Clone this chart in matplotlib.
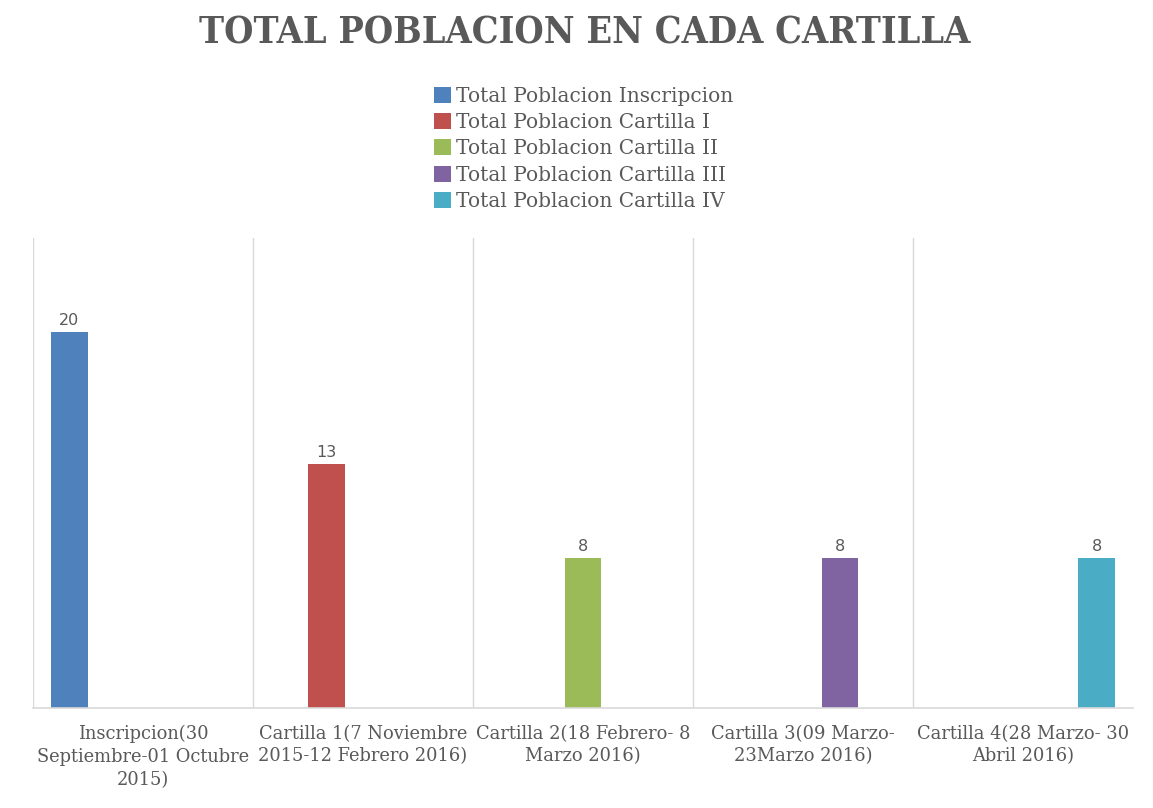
import numpy as np
import matplotlib
matplotlib.use("Agg")
import matplotlib.pyplot as plt

# datos del grafico
categorias = ["Inscripcion(30\nSeptiembre-01 Octubre\n2015)",
              "Cartilla 1(7 Noviembre\n2015-12 Febrero 2016)",
              "Cartilla 2(18 Febrero- 8\nMarzo 2016)",
              "Cartilla 3(09 Marzo-\n23Marzo 2016)",
              "Cartilla 4(28 Marzo- 30\nAbril 2016)"]
series = ["Total Poblacion Inscripcion", "Total Poblacion Cartilla I",
          "Total Poblacion Cartilla II", "Total Poblacion Cartilla III",
          "Total Poblacion Cartilla IV"]
valores = [[20, np.nan, np.nan, np.nan, np.nan],
           [np.nan, 13, np.nan, np.nan, np.nan],
           [np.nan, np.nan, 8, np.nan, np.nan],
           [np.nan, np.nan, np.nan, 8, np.nan],
           [np.nan, np.nan, np.nan, np.nan, 8]]
colores = ["#4F81BD", "#C0504D", "#9BBB59", "#8064A2", "#4BACC6"]

gris = "#595959"
fig = plt.figure(figsize=(11.53, 8.08), dpi=100)
ax = fig.add_axes([0.0286, 0.1238, 0.9541, 0.5816])

x = np.arange(len(categorias))
w = 0.168
for i, (nombre, vals) in enumerate(zip(series, valores)):
    vals = np.array(vals, dtype=float)
    bars = ax.bar(x + (i - 2) * w, vals, w, color=colores[i], label=nombre)
    for b, v in zip(bars, vals):
        if not np.isnan(v):
            ax.text(b.get_x() + b.get_width() / 2, v + 0.2, f"{v:.0f}",
                    ha="center", va="bottom", fontsize=11.5, color=gris,
                    family="DejaVu Sans")

ax.set_xlim(-0.5, 4.5)
ax.set_ylim(0, 25)
for xb in [-0.5, 0.5, 1.5, 2.5, 3.5]:
    ax.axvline(xb, color="#d9d9d9", lw=1, zorder=0)
for s in ["top", "right", "left"]:
    ax.spines[s].set_visible(False)
ax.spines["bottom"].set_color("#d9d9d9")
ax.spines["bottom"].set_linewidth(1.2)
ax.set_yticks([])
ax.set_xticks(x)
ax.set_xticklabels(categorias, family="DejaVu Serif", fontsize=12.9,
                   color=gris, linespacing=1.35)
ax.tick_params(axis="x", length=0, pad=12)

fig.text(0.507, 0.959, "TOTAL POBLACION EN CADA CARTILLA", ha="center",
         va="center", fontsize=27, fontweight="bold", family="DejaVu Serif",
         fontstretch="condensed", color=gris)

leg = fig.legend(loc="upper center", bbox_to_anchor=(0.506, 0.910),
                 frameon=False, prop={"family": "DejaVu Serif", "size": 14.5},
                 handlelength=0.85, handleheight=0.85, handletextpad=0.25,
                 labelspacing=0.36, labelcolor=gris, borderpad=0.2)

fig.savefig("out.png", dpi=100)
